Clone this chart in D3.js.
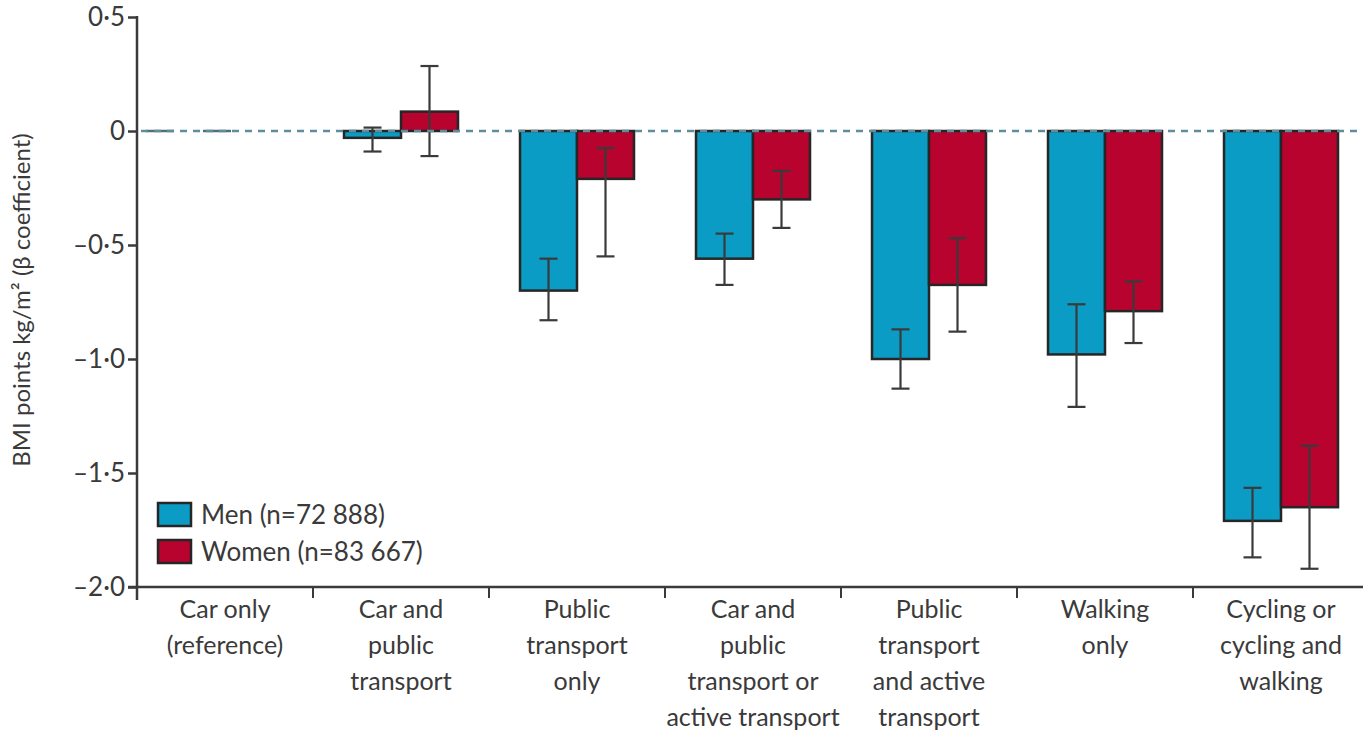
<!DOCTYPE html>
<html>
<head>
<meta charset="utf-8">
<script src="https://cdn.jsdelivr.net/npm/d3@7"></script>
<style>
  body { margin: 0; background: #fff; }
  text { font-family: Lato, "Open Sans", sans-serif; fill: #3a3a3a; }
</style>
</head>
<body>
<div id="chart"></div>
<script>
// transport mode categories (label lines)
var categories = [
  ["Car only", "(reference)"],
  ["Car and", "public", "transport"],
  ["Public", "transport", "only"],
  ["Car and", "public", "transport or", "active transport"],
  ["Public", "transport", "and active", "transport"],
  ["Walking", "only"],
  ["Cycling or", "cycling and", "walking"]
];
var men = [0, -0.03, -0.70, -0.56, -1.00, -0.98, -1.71];
var menLow = [0, -0.09, -0.83, -0.675, -1.13, -1.21, -1.87];
var menHigh = [0, 0.015, -0.56, -0.45, -0.87, -0.76, -1.565];
var women = [0, 0.085, -0.21, -0.30, -0.675, -0.79, -1.65];
var womenLow = [0, -0.11, -0.55, -0.425, -0.88, -0.93, -1.92];
var womenHigh = [0, 0.285, -0.075, -0.175, -0.47, -0.66, -1.38];
var yTicks = [0.5, 0, -0.5, -1.0, -1.5, -2.0];
var yTickLabels = ["0·5", "0", "–0·5", "–1·0", "–1·5", "–2·0"];
var legendLabels = ["Men (n=72 888)", "Women (n=83 667)"];

var W = 1363, H = 737;
var menColor = "#0a9cc4", womenColor = "#b8032f", ink = "#3a3a3a";

var svg = d3.select("#chart").append("svg")
  .attr("width", W).attr("height", H);

var x = d3.scaleBand()
  .domain(d3.range(categories.length))
  .range([137, 137 + 176 * 7])
  .padding(0);

var sex = d3.scaleBand()
  .domain(["men", "women"])
  .range([0, 114]);

var y = d3.scaleLinear()
  .domain([-2, 0.5])
  .range([587, 17]);

function barX(i, s) {
  return x(i) + x.bandwidth() / 2 - 57 + sex(s);
}

var rows = d3.range(categories.length).map(function(i) {
  return [
    {i: i, s: "men", v: men[i], lo: menLow[i], hi: menHigh[i], c: menColor},
    {i: i, s: "women", v: women[i], lo: womenLow[i], hi: womenHigh[i], c: womenColor}
  ];
});
var bars = d3.merge(rows);

// bars
svg.append("g").selectAll("rect")
  .data(bars.filter(function(d) { return d.v !== 0; }))
  .join("rect")
  .attr("x", function(d) { return barX(d.i, d.s); })
  .attr("width", sex.bandwidth())
  .attr("y", function(d) { return y(Math.max(0, d.v)); })
  .attr("height", function(d) { return Math.abs(y(d.v) - y(0)); })
  .attr("fill", function(d) { return d.c; })
  .attr("stroke", "#262626")
  .attr("stroke-width", 2.5);

// zero-valued reference bars: darker dashes on the zero line
svg.append("g").selectAll("line")
  .data(bars.filter(function(d) { return d.v === 0; }))
  .join("line")
  .attr("x1", function(d) { return barX(d.i, d.s) - 22; })
  .attr("x2", function(d) { return barX(d.i, d.s) + 6; })
  .attr("y1", y(0)).attr("y2", y(0))
  .attr("stroke", "#4f6f7a")
  .attr("stroke-width", 2.5);

// error bars
var eb = svg.append("g").attr("stroke", ink).attr("stroke-width", 2.2);
bars.filter(function(d) { return d.v !== 0; }).forEach(function(d) {
  var cx = barX(d.i, d.s) + sex.bandwidth() / 2;
  eb.append("line").attr("x1", cx).attr("x2", cx)
    .attr("y1", y(d.hi)).attr("y2", y(d.lo));
  [d.hi, d.lo].forEach(function(v) {
    eb.append("line").attr("x1", cx - 9).attr("x2", cx + 9)
      .attr("y1", y(v)).attr("y2", y(v));
  });
});

// dashed zero line on top
svg.append("line")
  .attr("x1", 141).attr("x2", W)
  .attr("y1", y(0)).attr("y2", y(0))
  .attr("stroke", "#5f8d9c")
  .attr("stroke-width", 2.5)
  .attr("stroke-dasharray", "7,6");

// y axis
var yAxis = svg.append("g")
  .attr("transform", "translate(137,0)")
  .call(d3.axisLeft(y).tickValues(yTicks)
    .tickFormat(function(d, i) { return yTickLabels[i]; })
    .tickSize(9).tickPadding(3));
yAxis.select(".domain").remove();
yAxis.selectAll(".tick line").attr("stroke", ink).attr("stroke-width", 2.5);
yAxis.selectAll(".tick text").attr("font-size", 26).attr("fill", ink)
  .attr("font-family", "Lato, sans-serif");
svg.append("line")
  .attr("x1", 137).attr("x2", 137).attr("y1", y(0.5) - 1).attr("y2", 600)
  .attr("stroke", ink).attr("stroke-width", 2.5);

// x axis
svg.append("line")
  .attr("x1", 128).attr("x2", W).attr("y1", 587).attr("y2", 587)
  .attr("stroke", ink).attr("stroke-width", 2.5);
svg.append("g").selectAll("line")
  .data(d3.range(1, categories.length))
  .join("line")
  .attr("x1", function(i) { return x(i); })
  .attr("x2", function(i) { return x(i); })
  .attr("y1", 587).attr("y2", 598)
  .attr("stroke", ink).attr("stroke-width", 2);

var xl = svg.append("g").selectAll("text")
  .data(categories)
  .join("text")
  .attr("text-anchor", "middle")
  .attr("font-size", 25)
  .attr("transform", function(d, i) {
    return "translate(" + (x(i) + x.bandwidth() / 2) + ",618)";
  });
xl.selectAll("tspan")
  .data(function(d) { return d; })
  .join("tspan")
  .attr("x", 0)
  .attr("y", function(d, j) { return j * 36; })
  .text(function(d) { return d; });

// y title
svg.append("text")
  .attr("transform", "translate(30,300) rotate(-90)")
  .attr("text-anchor", "middle")
  .attr("font-size", 24)
  .text("BMI points kg/m² (β coefficient)");

// legend
var lg = svg.append("g").selectAll("g")
  .data(legendLabels)
  .join("g")
  .attr("transform", function(d, i) { return "translate(158," + (503 + i * 37) + ")"; });
lg.append("rect")
  .attr("width", 33).attr("height", 23)
  .attr("fill", function(d, i) { return i ? womenColor : menColor; })
  .attr("stroke", "#262626").attr("stroke-width", 2.5);
lg.append("text")
  .attr("x", 43).attr("y", 21)
  .attr("font-size", 26)
  .text(function(d) { return d; });
</script>
</body>
</html>
